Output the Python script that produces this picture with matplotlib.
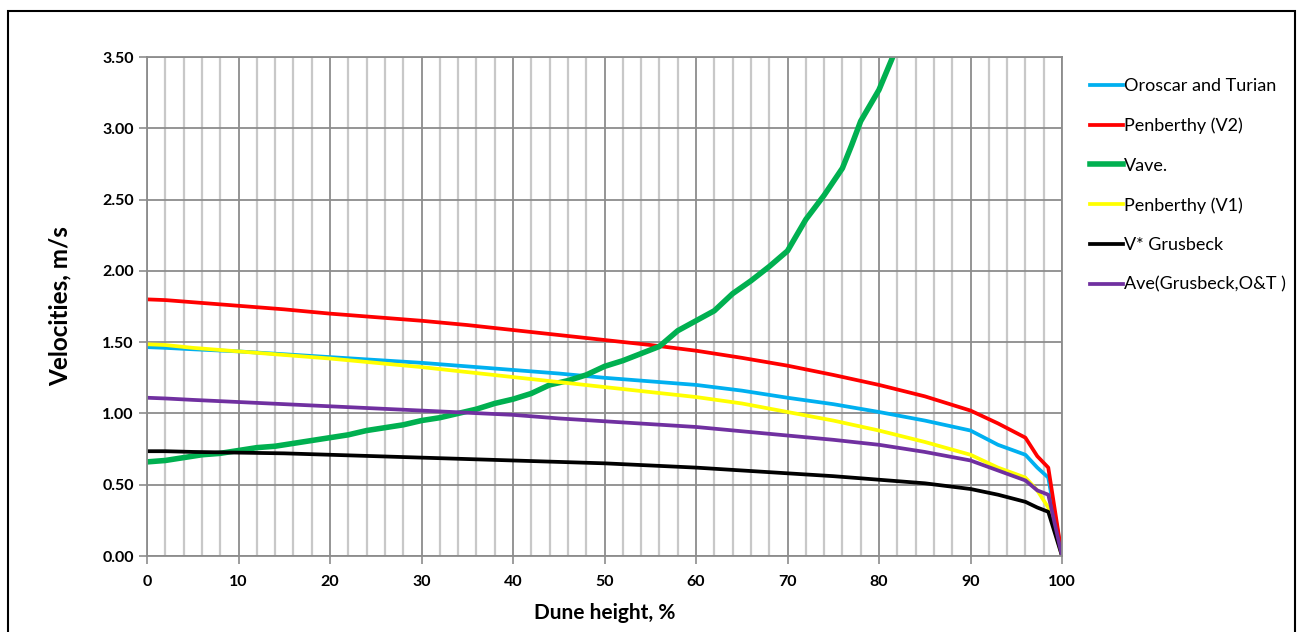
import numpy as np
import matplotlib.pyplot as plt
from matplotlib.patches import Rectangle
from matplotlib.ticker import MultipleLocator

plt.rcParams['font.family'] = ['Lato', 'DejaVu Sans']

#%% Data
dune_h = [0, 2, 5, 10, 15, 20, 25, 30, 35, 40, 45, 50, 55, 60, 65, 70, 75, 80,
          85, 90, 93, 96, 97.3, 98.5, 100]
v_ot = [1.465, 1.46, 1.45, 1.435, 1.415, 1.395, 1.375, 1.355, 1.33, 1.305, 1.28, 1.25,
        1.225, 1.20, 1.16, 1.11, 1.065, 1.01, 0.95, 0.88, 0.78, 0.71, 0.62, 0.55, 0.0]
v_pen2 = [1.80, 1.795, 1.78, 1.755, 1.73, 1.70, 1.675, 1.65, 1.62, 1.585, 1.55, 1.515,
          1.48, 1.44, 1.39, 1.335, 1.27, 1.20, 1.12, 1.02, 0.93, 0.83, 0.70, 0.62, 0.0]
v_pen1 = [1.485, 1.48, 1.46, 1.435, 1.41, 1.385, 1.355, 1.325, 1.29, 1.255, 1.22, 1.185,
          1.15, 1.115, 1.07, 1.01, 0.95, 0.88, 0.80, 0.71, 0.62, 0.55, 0.46, 0.34, 0.0]
v_grus = [0.735, 0.735, 0.73, 0.725, 0.72, 0.71, 0.70, 0.69, 0.68, 0.67, 0.66, 0.65,
          0.635, 0.62, 0.60, 0.58, 0.56, 0.535, 0.51, 0.47, 0.43, 0.38, 0.34, 0.31, 0.0]
v_avg = [1.11, 1.105, 1.095, 1.08, 1.065, 1.05, 1.035, 1.02, 1.005, 0.99, 0.965, 0.945,
         0.925, 0.905, 0.875, 0.845, 0.815, 0.78, 0.73, 0.67, 0.60, 0.53, 0.46, 0.43, 0.0]

vave_h = [0, 2, 4, 6, 8, 10, 12, 14, 16, 18, 20, 22, 24, 26, 28, 30, 32, 34, 36, 38,
          40, 42, 44, 46, 48, 50, 52, 54, 56, 58, 60, 62, 64, 66, 68, 70, 71, 72, 74,
          76, 77, 78, 80, 81.5]
vave = [0.66, 0.67, 0.69, 0.71, 0.72, 0.74, 0.76, 0.77, 0.79, 0.81, 0.83, 0.85, 0.88,
        0.90, 0.92, 0.95, 0.97, 1.00, 1.03, 1.07, 1.10, 1.14, 1.20, 1.23, 1.27, 1.33,
        1.37, 1.42, 1.47, 1.58, 1.65, 1.72, 1.84, 1.93, 2.03, 2.14, 2.25, 2.36, 2.53,
        2.72, 2.88, 3.05, 3.27, 3.5]

#%% Plot
fig = plt.figure(figsize=(13.02, 6.32), dpi=100)
fig.patches.append(Rectangle((8 / 1302, -0.05), 1287 / 1302, 1.05 - 11 / 632,
                             transform=fig.transFigure, fill=False,
                             edgecolor='black', linewidth=1.5))
ax = fig.add_axes([147 / 1302, 1 - 556 / 632, 915 / 1302, 499 / 632])

lw = 2.7
ax.plot(dune_h, v_ot, color='#00B0F0', lw=lw, label='Oroscar and Turian')
ax.plot(dune_h, v_pen2, color='#FF0000', lw=lw, label='Penberthy (V2)')
ax.plot(vave_h, vave, color='#00B050', lw=4.0, label='Vave.')
ax.plot(dune_h, v_pen1, color='#FFFF00', lw=lw, label='Penberthy (V1)')
ax.plot(dune_h, v_grus, color='#000000', lw=lw, label='V* Grusbeck')
ax.plot(dune_h, v_avg, color='#7030A0', lw=lw, label='Ave(Grusbeck,O&T )')

ax.set_xlim(0, 100)
ax.set_ylim(0, 3.5)
ax.xaxis.set_major_locator(MultipleLocator(10))
ax.xaxis.set_minor_locator(MultipleLocator(2))
ax.yaxis.set_major_locator(MultipleLocator(0.5))
ax.yaxis.set_major_formatter(plt.FormatStrFormatter('%.2f'))

ax.grid(which='minor', axis='x', color='#c8c8c8', lw=1.6)
ax.grid(which='major', axis='x', color='#8c8c8c', lw=1.3)
ax.grid(which='major', axis='y', color='#8c8c8c', lw=1.3)
ax.set_axisbelow(True)
for s in ax.spines.values():
    s.set_color('#8c8c8c')
    s.set_linewidth(1.3)

ax.tick_params(which='major', length=6, width=1.2, color='#8c8c8c', direction='out',
               labelsize=11.5)
ax.tick_params(which='minor', length=0)
ax.tick_params(axis='x', pad=8)
for lab in ax.get_xticklabels() + ax.get_yticklabels():
    lab.set_fontweight('bold')

ax.set_xlabel('Dune height, %', fontsize=15, fontweight='bold', labelpad=10)
ax.set_ylabel('Velocities, m/s', fontsize=17.5, fontweight='bold', labelpad=22)

fig.legend(loc='upper left', bbox_to_anchor=(1083 / 1302, 1 - 71 / 632),
           frameon=False, fontsize=13, handlelength=1.8, handletextpad=0.05,
           labelspacing=1.3, borderaxespad=0)

plt.savefig('out.png', dpi=100)
